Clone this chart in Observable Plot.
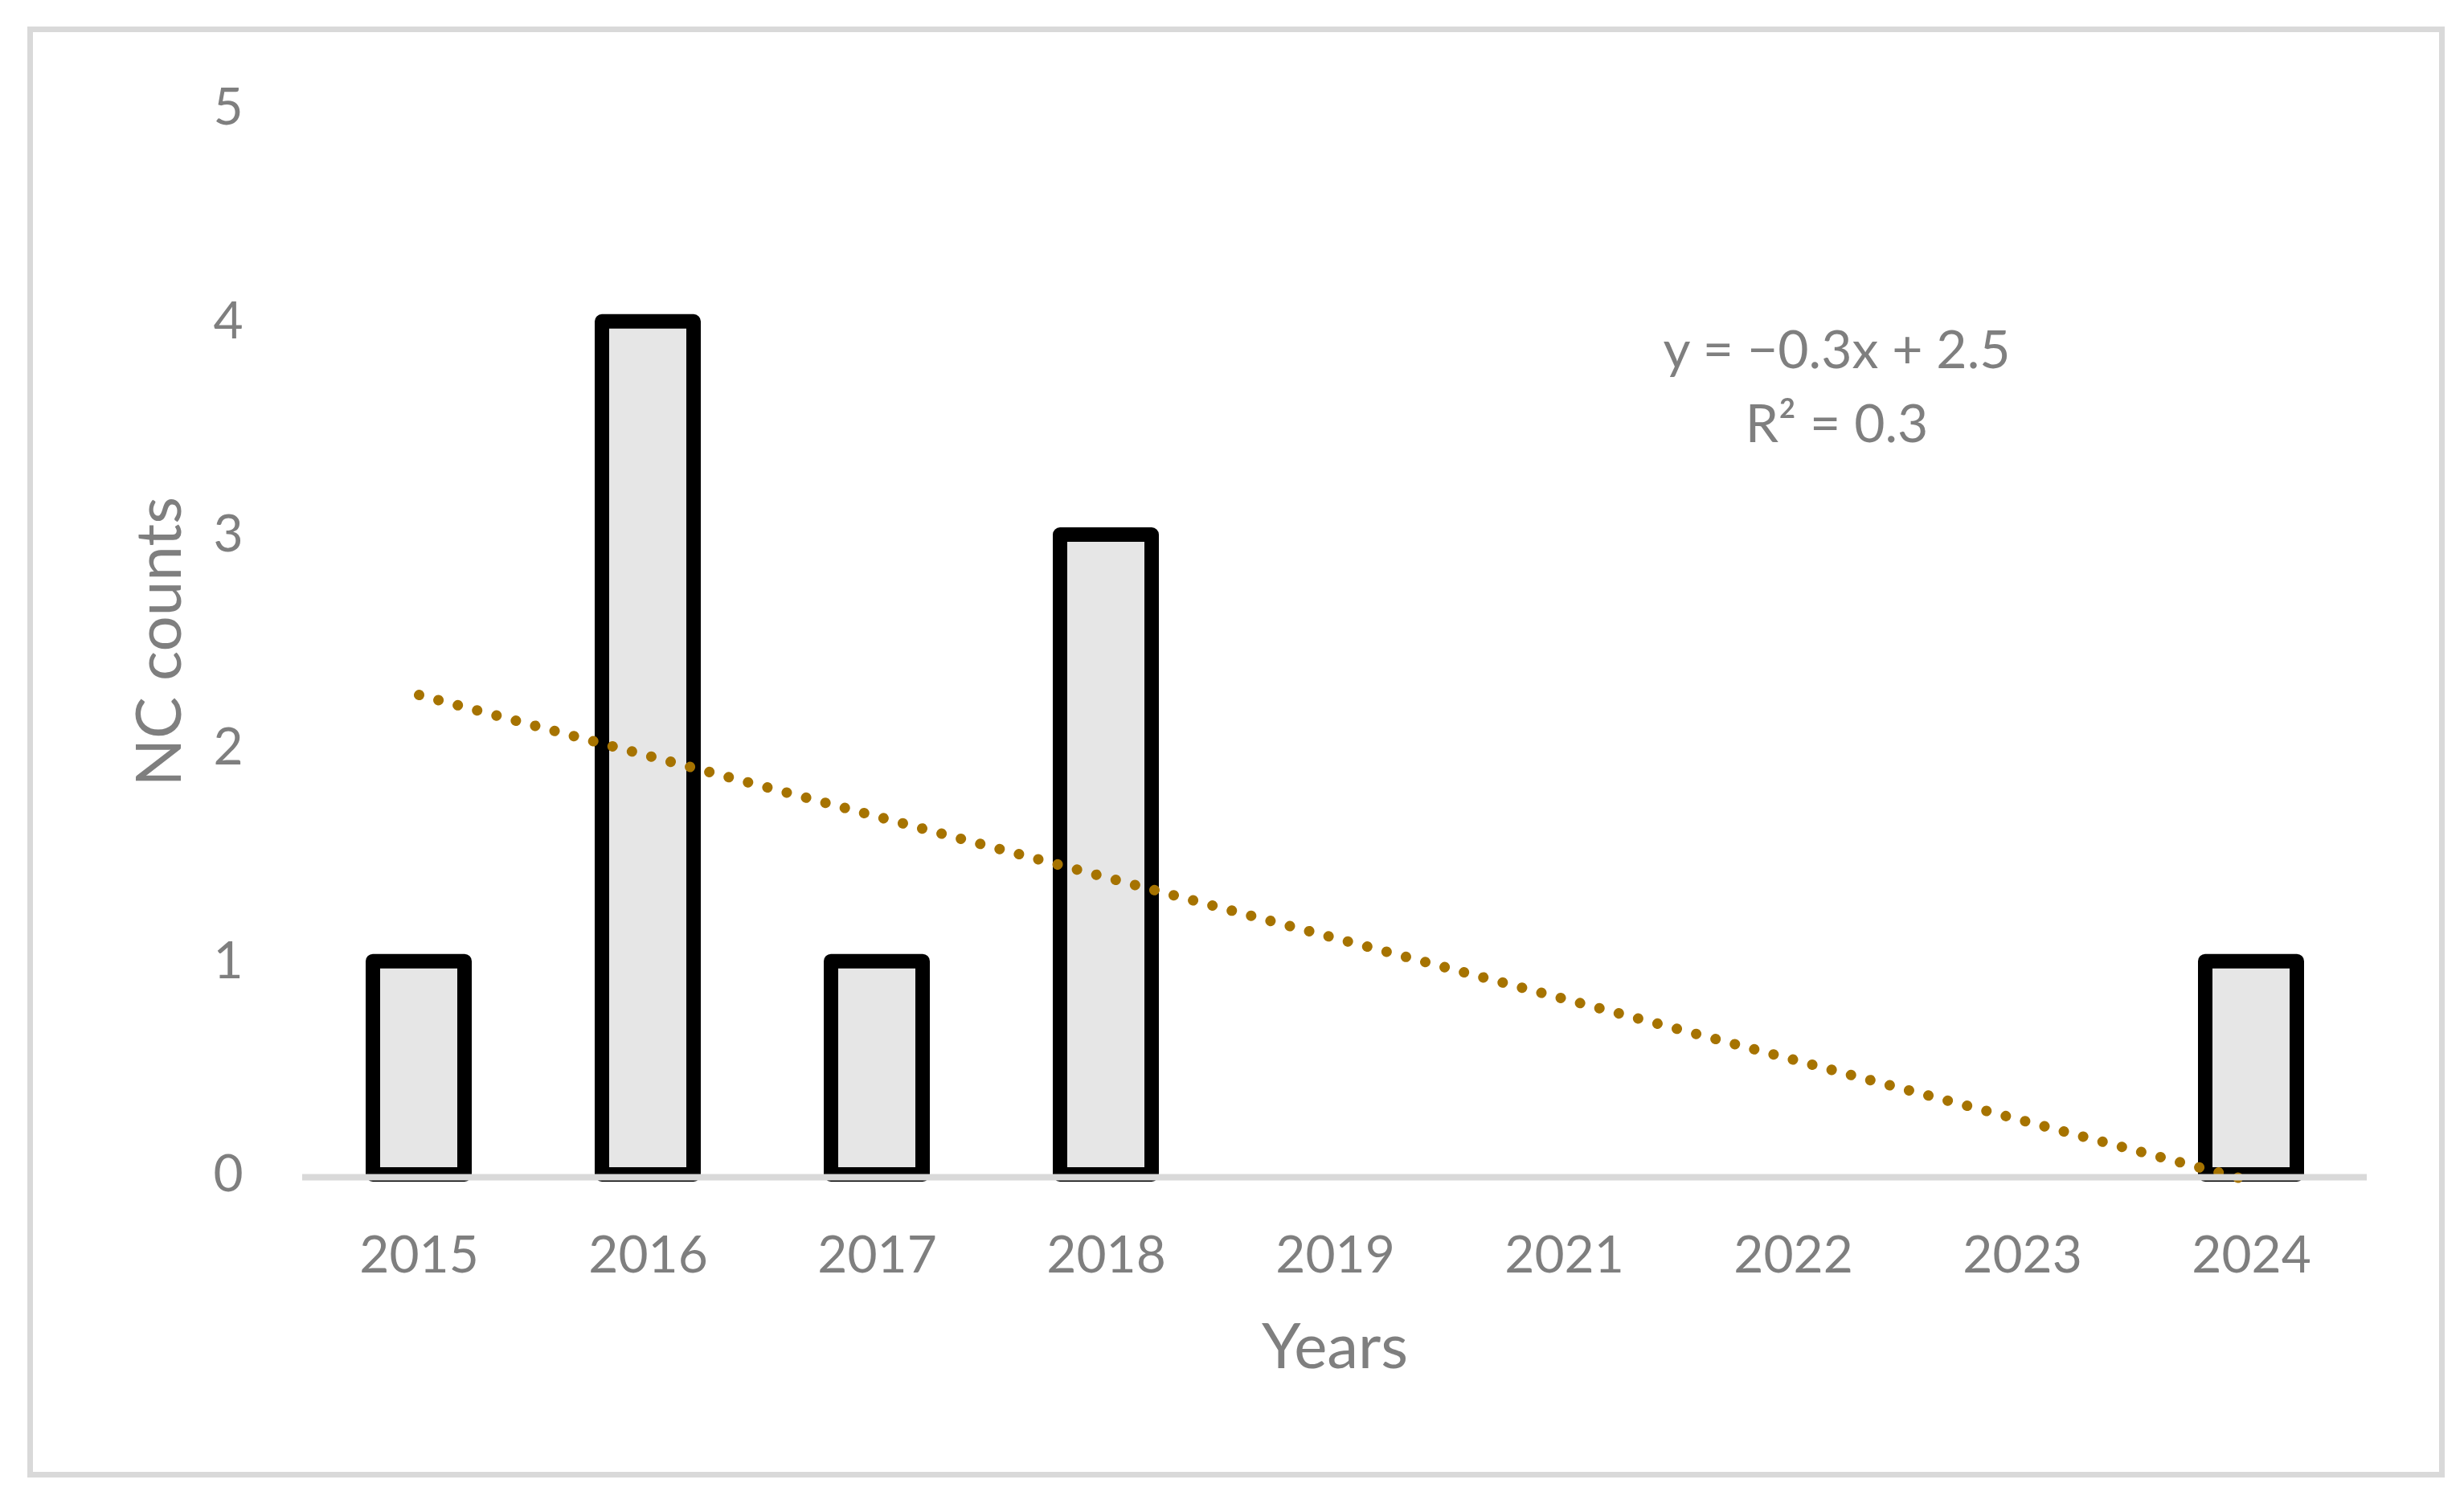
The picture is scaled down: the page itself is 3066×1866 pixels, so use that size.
<!DOCTYPE html>
<html>
<head>
<meta charset="utf-8">
<script src="https://cdn.jsdelivr.net/npm/d3@7"></script>
<script src="https://cdn.jsdelivr.net/npm/@observablehq/plot@0.6"></script>
<style>
html, body { margin: 0; padding: 0; background: #ffffff; }
#wrap { position: relative; width: 3066px; height: 1866px; overflow: hidden; }
#border { position: absolute; left: 34px; top: 33px; width: 3008px; height: 1805px;
  border: 7px solid #d9d9d9; box-sizing: border-box; pointer-events: none; }
</style>
</head>
<body>
<div id="wrap"><div id="chart"></div><div id="border"></div></div>
<script>
// ---- data ----
const years = ["2015", "2016", "2017", "2018", "2019", "2021", "2022", "2023", "2024"];
const counts = [1, 4, 1, 3, 0, 0, 0, 0, 1];
const yTicks = [0, 1, 2, 3, 4, 5];
const trendYears = ["2015", "2024"];
const trendValues = [2.25, -0.03];
const equationLines = ["y = \u22120.3x + 2.5", "R\u00B2 = 0.3"];
const equationAt = {year: "2022", value: 4.03};
const xTitle = "Years";
const yTitle = "NC counts";

const bars = years.map((year, i) => ({year, count: counts[i]}));
const trend = trendYears.map((year, i) => ({year, value: trendValues[i]}));

const chart = Plot.plot({
  width: 3066,
  height: 1866,
  marginLeft: 376,
  marginRight: 121,
  marginTop: 134.5,
  marginBottom: 405,
  style: {fontFamily: "Lato, sans-serif", fontSize: "64px", color: "#7f7f7f", background: "#ffffff", overflow: "visible"},
  x: {domain: years, paddingInner: 0.6, paddingOuter: 0.3},
  y: {domain: [0, 5], ticks: yTicks},
  marks: [
    Plot.barY(bars, {x: "year", y: "count", fill: "#e6e6e6", stroke: "#000000", strokeWidth: 18, strokeLinejoin: "round"}),
    Plot.line(trend, {x: "year", y: "value", stroke: "#a67300", strokeWidth: 13,
      strokeDasharray: "0.01 24.9", strokeLinecap: "round"}),
    Plot.ruleY([0], {stroke: "#d9d9d9", strokeWidth: 8, dy: 3}),
    Plot.axisY({ticks: yTicks, tickFormat: d3.format("d"), tickSize: 0, tickPadding: 74, fontSize: 64, label: null}),
    Plot.axisX({tickSize: 0, tickPadding: 76, fontSize: 64, label: null}),
    Plot.text([xTitle], {text: d => d, frameAnchor: "bottom", lineAnchor: "bottom", dy: 240, fontSize: 78, fill: "#7f7f7f"}),
    Plot.text([yTitle], {text: d => d, frameAnchor: "left", textAnchor: "middle", rotate: -90, dx: -176, fontSize: 78, fill: "#7f7f7f"}),
    Plot.text([equationAt], {x: "year", y: "value", text: () => equationLines.join("\n"), dx: 54,
      lineAnchor: "top", lineHeight: 1.4, fontSize: 66, fill: "#7f7f7f"})
  ]
});
document.getElementById("chart").appendChild(chart);
</script>
</body>
</html>
